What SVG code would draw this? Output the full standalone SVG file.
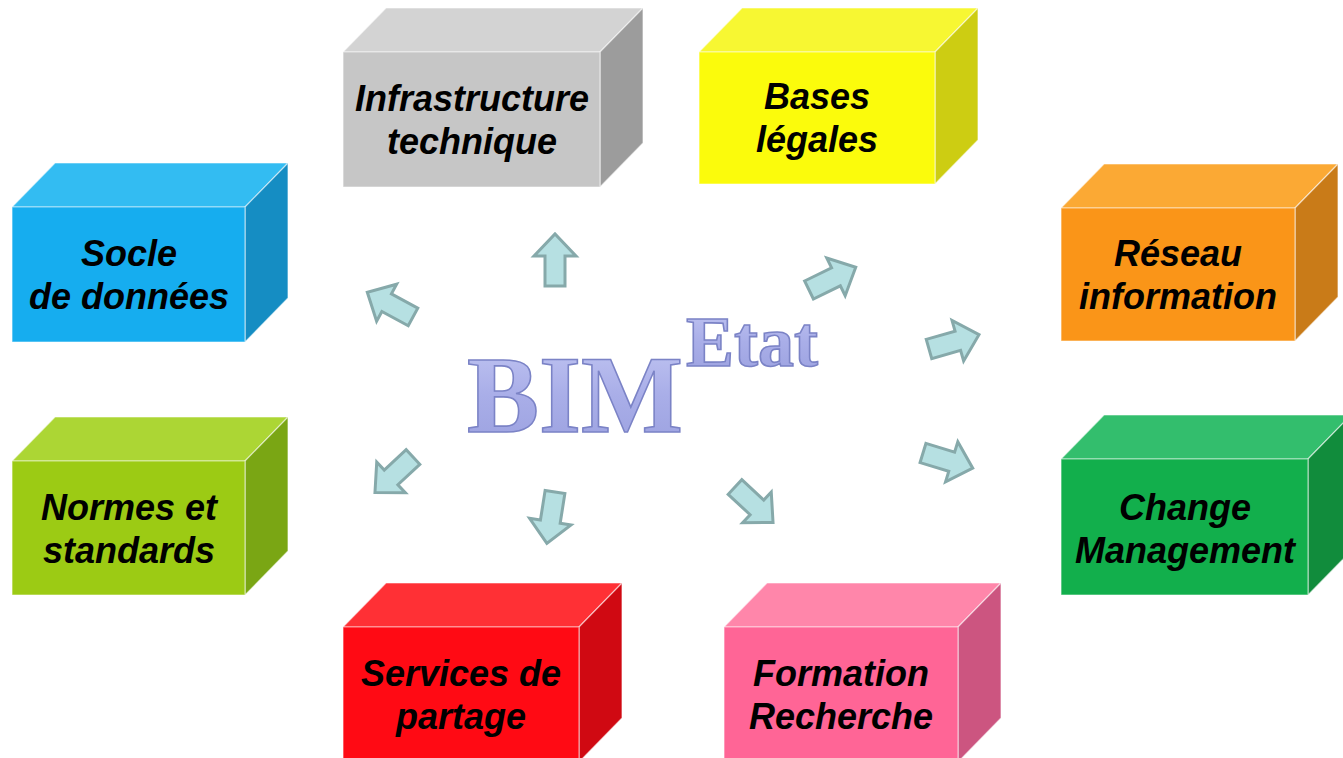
<svg xmlns="http://www.w3.org/2000/svg" width="1343" height="758" viewBox="0 0 1343 758">
<style>
.face{stroke:#ffffff;stroke-opacity:0.55;stroke-width:1.2;stroke-linejoin:round}
.lbl{font-family:"Liberation Sans",Arial,sans-serif;font-weight:bold;font-style:italic;font-size:36px;fill:#000;text-anchor:middle}
.arw{fill:#b6e0e2;stroke:#86a9aa;stroke-width:3;stroke-linejoin:miter}
.big{font-family:"Liberation Serif","Times New Roman",serif;font-weight:bold;fill:url(#bimg);stroke:#7b83c6;stroke-width:1.6}
</style>
<defs>
<path id="arrow" d="M0,-10 L30,-10 L30,-21 L52,0 L30,21 L30,10 L0,10 Z"/>
<linearGradient id="bimg" x1="0" y1="0" x2="0" y2="1">
<stop offset="0" stop-color="#c3c7f3"/>
<stop offset="0.5" stop-color="#a9aee8"/>
<stop offset="1" stop-color="#9aa0df"/>
</linearGradient>
</defs>
<rect width="1343" height="758" fill="#ffffff"/>

<g id="title">
<text class="big" x="467" y="432" font-size="110" textLength="216" lengthAdjust="spacingAndGlyphs">BIM</text>
<text class="big" x="686" y="366" font-size="72" textLength="132" lengthAdjust="spacingAndGlyphs">Etat</text>
</g>

<g id="connectors">
<use href="#arrow" class="arw" transform="translate(555,286) rotate(-90)"/>
<use href="#arrow" class="arw" transform="translate(413,317) rotate(208.5)"/>
<use href="#arrow" class="arw" transform="translate(809,290) rotate(-26)"/>
<use href="#arrow" class="arw" transform="translate(929,349) rotate(-16)"/>
<use href="#arrow" class="arw" transform="translate(923,453) rotate(17)"/>
<use href="#arrow" class="arw" transform="translate(413,457) rotate(137)"/>
<use href="#arrow" class="arw" transform="translate(555,492) rotate(99)"/>
<use href="#arrow" class="arw" transform="translate(735,487) rotate(43)"/>
</g>

<g id="infrastructure">
<polygon class="face" points="343,52 386,8 643,8 600,52" fill="#d3d3d3"/>
<polygon class="face" points="600,52 643,8 643,143 600,187" fill="#9c9c9c"/>
<rect class="face" x="343" y="52" width="257" height="135" fill="#c6c6c6"/>
<text class="lbl" x="472" y="111">Infrastructure</text>
<text class="lbl" x="472" y="154">technique</text>
</g>

<g id="bases">
<polygon class="face" points="699,52 742,8 978,8 935,52" fill="#f7f732"/>
<polygon class="face" points="935,52 978,8 978,140 935,184" fill="#cdcd12"/>
<rect class="face" x="699" y="52" width="236" height="132" fill="#fbfb0c"/>
<text class="lbl" x="817" y="109">Bases</text>
<text class="lbl" x="817" y="152">légales</text>
</g>

<g id="socle">
<polygon class="face" points="12,207 55,163 288,163 245,207" fill="#33bcf2"/>
<polygon class="face" points="245,207 288,163 288,298 245,342" fill="#158dc3"/>
<rect class="face" x="12" y="207" width="233" height="135" fill="#16adef"/>
<text class="lbl" x="129" y="266">Socle</text>
<text class="lbl" x="129" y="309">de données</text>
</g>

<g id="reseau">
<polygon class="face" points="1061,208 1104,164 1338,164 1295,208" fill="#fba934"/>
<polygon class="face" points="1295,208 1338,164 1338,297 1295,341" fill="#c97b18"/>
<rect class="face" x="1061" y="208" width="234" height="133" fill="#fa9518"/>
<text class="lbl" x="1178" y="266">Réseau</text>
<text class="lbl" x="1178" y="309">information</text>
</g>

<g id="normes">
<polygon class="face" points="12,461 55,417 288,417 245,461" fill="#acd634"/>
<polygon class="face" points="245,461 288,417 288,551 245,595" fill="#7aa614"/>
<rect class="face" x="12" y="461" width="233" height="134" fill="#9ccb14"/>
<text class="lbl" x="129" y="520">Normes et</text>
<text class="lbl" x="129" y="563">standards</text>
</g>

<g id="change">
<polygon class="face" points="1061,459 1104,415 1351,415 1308,459" fill="#33be6d"/>
<polygon class="face" points="1308,459 1351,415 1351,551 1308,595" fill="#118c3c"/>
<rect class="face" x="1061" y="459" width="247" height="136" fill="#12af4c"/>
<text class="lbl" x="1185" y="520">Change</text>
<text class="lbl" x="1185" y="563">Management</text>
</g>

<g id="services">
<polygon class="face" points="343,627 386,583 622,583 579,627" fill="#ff3035"/>
<polygon class="face" points="579,627 622,583 622,718 579,762" fill="#d00912"/>
<rect class="face" x="343" y="627" width="236" height="135" fill="#ff0a14"/>
<text class="lbl" x="461" y="686">Services de</text>
<text class="lbl" x="461" y="729">partage</text>
</g>

<g id="formation">
<polygon class="face" points="724,627 767,583 1001,583 958,627" fill="#ff86aa"/>
<polygon class="face" points="958,627 1001,583 1001,718 958,762" fill="#cc5580"/>
<rect class="face" x="724" y="627" width="234" height="135" fill="#ff6596"/>
<text class="lbl" x="841" y="686">Formation</text>
<text class="lbl" x="841" y="729">Recherche</text>
</g>
</svg>
